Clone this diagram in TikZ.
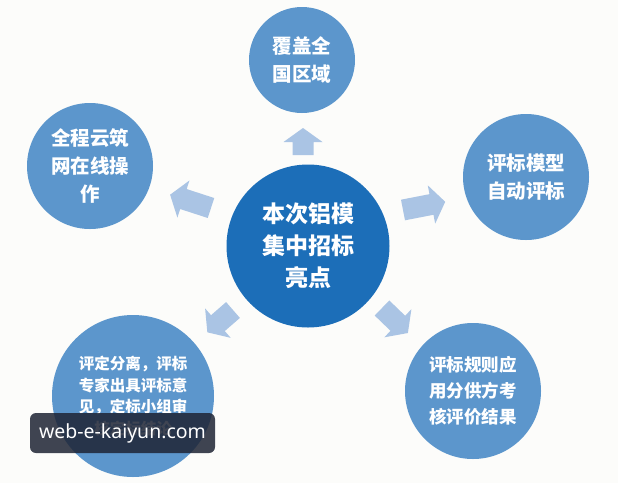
\documentclass[tikz,border=0pt]{standalone}
\usepackage{fontspec}
\newfontfamily\cjk{Noto Sans CJK SC}
\newfontfamily\wmfont{Noto Sans}
\definecolor{bgc}{RGB}{252,252,250}
\definecolor{hubc}{RGB}{28,110,184}
\definecolor{satc}{RGB}{92,150,204}
\definecolor{arrc}{RGB}{170,196,228}
\definecolor{wmc}{RGB}{30,36,52}
\tikzset{
  hub/.style={circle, fill=hubc, text=white, align=center, inner sep=0pt,
    font=\cjk\bfseries\fontsize{23}{32}\selectfont},
  sat/.style={circle, fill=satc, text=white, align=center, inner sep=0pt,
    font=\cjk\bfseries\fontsize{19.5}{28}\selectfont},
  blockarr/.style={fill=arrc, draw=none},
}
\newcommand\blockarrow[4]{%
  \begin{scope}[shift={(#1,#2)}, rotate=#3]
    \fill[blockarr] (0,-10.5) -- ({#4-14},-10.5) -- ({#4-14},-19.5) -- (#4,0)
      -- ({#4-14},19.5) -- ({#4-14},10.5) -- (0,10.5) -- cycle;
  \end{scope}}
\begin{document}
\begin{tikzpicture}[x=1pt,y=-1pt]
\fill[bgc] (0,0) rectangle (618,483);
\useasboundingbox (0,0) rectangle (618,483);
% satellites
\node[sat, minimum size=106pt] (top) at (302,60) {覆盖全\\国区域};
\node[sat, minimum size=126pt] (left) at (90,166) {全程云筑\\网在线操\\作};
\node[sat, minimum size=126pt] (right) at (526,177) {评标模型\\自动评标};
\node[sat, minimum size=136pt, font=\cjk\bfseries\fontsize{17.5}{26}\selectfont] (br) at (473,391) {评标规则应\\用分供方考\\核评价结果};
\node[sat, minimum size=162pt, font=\cjk\bfseries\fontsize{15.5}{21.5}\selectfont] (bl) at (133,396) {评定分离，评标\\专家出具评标意\\见，定标小组审\\核定标结论};
% hub
\node[hub, minimum size=163pt] (hub) at (308,246) {本次铝模\\集中招标\\亮点};
% arrows
\blockarrow{303}{155}{90}{27}
\blockarrow{211}{208}{162}{43}
\blockarrow{403}{210}{11}{43}
\blockarrow{233}{310}{221}{34}
\blockarrow{382}{308}{-44}{36}
% watermark
\node[fill=wmc, fill opacity=0.85, text opacity=1, text=white, rounded corners=6pt,
  minimum width=185pt, minimum height=40pt, inner sep=0pt,
  font=\wmfont\fontsize{19.5}{21}\selectfont] (wm) at (122.5,433) {web-e-kaiyun.com};
\end{tikzpicture}
\end{document}
